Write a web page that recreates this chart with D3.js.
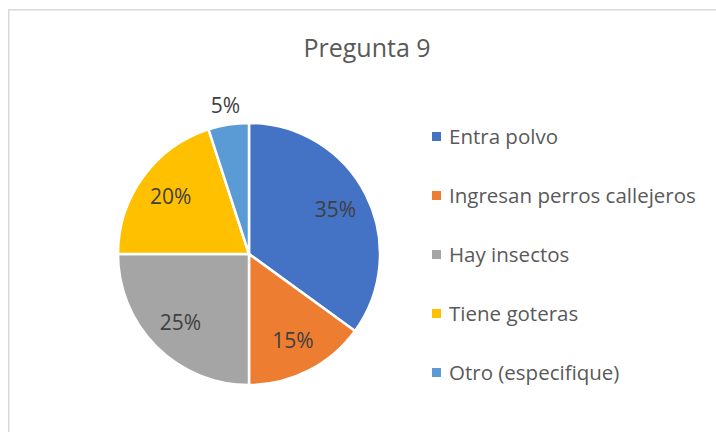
<!DOCTYPE html>
<html>
<head>
<meta charset="utf-8">
<script src="https://cdn.jsdelivr.net/npm/d3@7"></script>
<style>
  html, body { margin: 0; padding: 0; background: #fff; }
  svg { display: block; }
  text { font-family: "Open Sans", "Noto Sans", sans-serif; }
</style>
</head>
<body>
<svg id="chart" width="716" height="432"></svg>
<script>
const title = "Pregunta 9";
const categories = ["Entra polvo", "Ingresan perros callejeros", "Hay insectos", "Tiene goteras", "Otro (especifique)"];
const values = [35, 15, 25, 20, 5];
const colors = ["#4472C4", "#ED7D31", "#A5A5A5", "#FFC000", "#5B9BD5"];

const svg = d3.select("#chart");
const W = 716, H = 432;

// border
svg.append("rect")
  .attr("x", 8.75).attr("y", 9.75)
  .attr("width", W + 20).attr("height", H + 20)
  .attr("fill", "#fff")
  .attr("stroke", "#D9D9D9").attr("stroke-width", 1.5);

// title
svg.append("text")
  .attr("x", 367).attr("y", 57)
  .attr("text-anchor", "middle")
  .attr("fill", "#595959")
  .attr("font-size", 25)
  .text(title);

const cx = 249, cy = 254, r = 131;
const data = categories.map((c, i) => ({ cat: c, value: values[i], color: colors[i] }));
const pie = d3.pie().sort(null).value(d => d.value);
const arcs = pie(data);
const arc = d3.arc().innerRadius(0).outerRadius(r);

const g = svg.append("g").attr("transform", `translate(${cx},${cy})`);
g.selectAll("path").data(arcs).join("path")
  .attr("d", arc)
  .attr("fill", d => d.data.color)
  .attr("stroke", "#fff")
  .attr("stroke-width", 2.5)
  .attr("stroke-linejoin", "round");

// labels
const labelArc = d3.arc().innerRadius(r * 0.74).outerRadius(r * 0.74);
const outerArc = d3.arc().innerRadius(r * 1.15).outerRadius(r * 1.15);
g.selectAll("text.lbl").data(arcs).join("text")
  .attr("class", "lbl")
  .attr("transform", d => {
    const small = (d.endAngle - d.startAngle) < 0.4;
    const p = (small ? outerArc : labelArc).centroid(d);
    return `translate(${p[0]},${p[1]})`;
  })
  .attr("text-anchor", "middle")
  .attr("dy", "0.35em")
  .attr("fill", "#404040")
  .attr("font-size", 21)
  .text(d => d.data.value + "%");

// legend
const legendY = d3.scalePoint().domain(categories).range([136.5, 372.5]);
const lg = svg.append("g");
const items = lg.selectAll("g").data(data).join("g")
  .attr("transform", d => `translate(432,${legendY(d.cat)})`);
items.append("rect")
  .attr("x", 0).attr("y", -4.5).attr("width", 9).attr("height", 9)
  .attr("fill", d => d.color);
items.append("text")
  .attr("x", 17).attr("y", 0).attr("dy", "0.35em")
  .attr("fill", "#595959")
  .attr("font-size", 20.5)
  .text(d => d.cat);
</script>
</body>
</html>
